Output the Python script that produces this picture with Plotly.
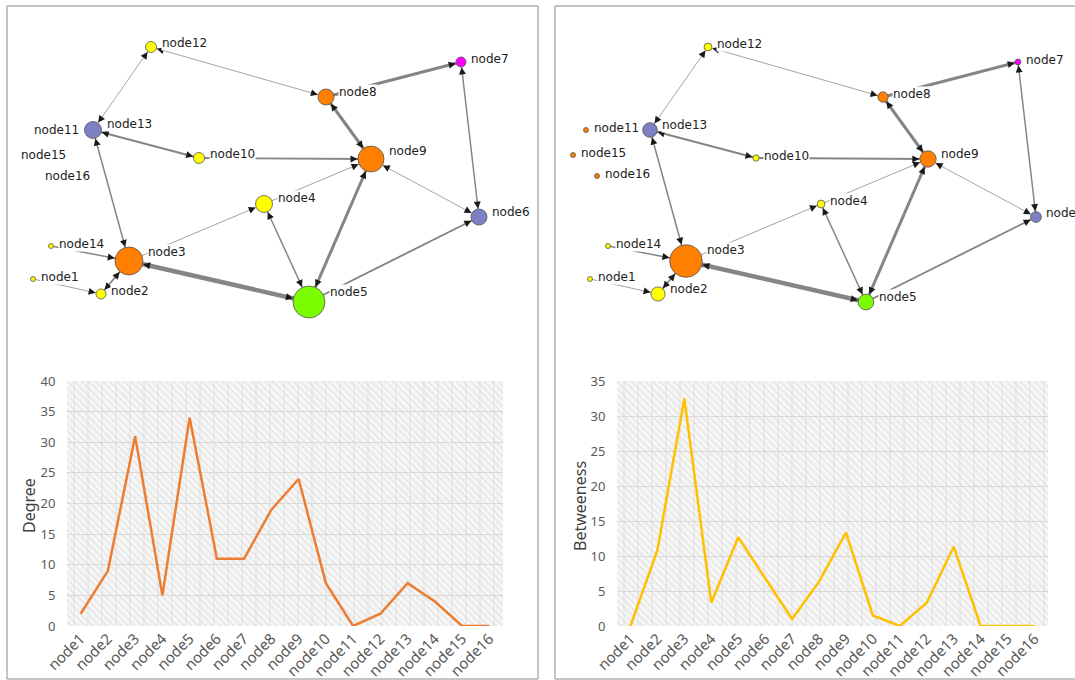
import math
import plotly.graph_objects as go

# ---- data -------------------------------------------------------------
nodes = [f"node{i}" for i in range(1, 17)]
degree = [2, 9, 31, 5, 34, 11, 11, 19, 24, 7, 0, 2, 7, 4, 0, 0]
betweenness = [0, 10.83, 32.5, 3.33, 12.67, 6.83, 1.0, 6.33, 13.33, 1.5, 0, 3.33, 11.33, 0, 0, 0]

# network layout (same layout in both views)
node_x = [33, 101, 129, 264, 309, 479, 461, 326, 371, 199, 29, 151, 93, 51, 16, 40]
node_y = [279, 294, 261, 204, 302, 217, 62, 97, 159, 158, 130, 47, 130, 246, 155, 176]
node_group = ["Y", "Y", "O", "Y", "G", "P", "M", "O", "O", "Y", "O", "Y", "P", "Y", "O", "O"]

# directed ties: (source, target, weight, reciprocal)
edges = [
    (12, 8, 1, True), (13, 12, 1, True), (13, 3, 2, True), (13, 10, 2.5, True),
    (10, 9, 2.5, False), (8, 9, 4, True), (8, 7, 4, False), (7, 6, 2, True),
    (9, 6, 1, True), (4, 9, 1, False), (3, 4, 1, False), (4, 5, 2, True),
    (5, 9, 4, True), (5, 6, 2.5, False), (3, 5, 6, True), (14, 3, 2, False),
    (2, 3, 2.5, True), (1, 2, 1, False),
]

# ---- styles -----------------------------------------------------------
group_colors = {"Y": "#FFFF00", "O": "#FF7F00", "G": "#7CFC00", "P": "#7F7FC4", "M": "#FF00FF"}
left_sizes = [5, 10, 28, 17, 32, 16, 10, 16, 26, 11, 0, 11, 17, 5, 0, 0]
right_sizes = [5 + 0.85 * b for b in betweenness]

W, H = 1075, 680
LINE_FONT = "Noto Sans"
NET_FONT = "DejaVu Sans"

fig = go.Figure()
annotations = []


def px_x(v):
    return v / W


def px_y(v):
    return 1 - v / H


def add_network(xa, ya, sizes):
    # edges as plain lines under the nodes
    for s, t, w, both in edges:
        i, j = s - 1, t - 1
        fig.add_trace(go.Scatter(
            x=[node_x[i], node_x[j]], y=[node_y[i], node_y[j]], mode="lines",
            line=dict(color="#858585", width=0.75 * w), hoverinfo="skip",
            xaxis=xa, yaxis=ya, showlegend=False))
    # nodes
    fig.add_trace(go.Scatter(
        x=node_x, y=node_y, mode="markers",
        marker=dict(size=sizes, color=[group_colors[g] for g in node_group],
                    line=dict(color="#555555", width=[0.8 if s > 0 else 0 for s in sizes]),
                    opacity=1),
        text=nodes, hoverinfo="text", xaxis=xa, yaxis=ya, showlegend=False))
    # arrowheads (black) sitting on the node rim
    for s, t, w, both in edges:
        ends = [(s - 1, t - 1)] + ([(t - 1, s - 1)] if both else [])
        for a, b in ends:
            dx, dy = node_x[a] - node_x[b], node_y[a] - node_y[b]
            d = math.hypot(dx, dy)
            r = sizes[b] / 2 + 0.5
            back = r + 8
            annotations.append(dict(
                x=node_x[b], y=node_y[b], ax=node_x[b] + dx / d * back, ay=node_y[b] + dy / d * back,
                xref=xa, yref=ya, axref=xa, ayref=ya, showarrow=True, text="",
                arrowhead=2, arrowsize=1.4, arrowwidth=1, arrowcolor="#1a1a1a", standoff=r))
    # labels with white backing (they mask the edges passing under them)
    for k, name in enumerate(nodes):
        r = sizes[k] / 2
        annotations.append(dict(
            x=node_x[k] + r + 4, y=node_y[k] - 0.65 * r, xref=xa, yref=ya,
            text=name, showarrow=False, xanchor="left", yanchor="middle",
            bgcolor="white", borderpad=0,
            font=dict(family=NET_FONT, size=12, color="#222222")))


add_network("x3", "y3", left_sizes)
add_network("x4", "y4", right_sizes)


def add_line_chart(xa, ya, values, ymax, color):
    # hatched plot background
    fig.add_trace(go.Bar(
        x=nodes, y=[ymax] * len(nodes), width=1, xaxis=xa, yaxis=ya,
        marker=dict(color="rgba(215,215,215,0.22)", line=dict(width=0),
                    pattern=dict(shape="\\", fgcolor="#d4d4d4", size=5, solidity=0.3, fillmode="overlay")),
        hoverinfo="skip", showlegend=False))
    fig.add_trace(go.Bar(
        x=nodes, y=[ymax] * len(nodes), width=1, xaxis=xa, yaxis=ya,
        marker=dict(color="rgba(0,0,0,0)", line=dict(width=0),
                    pattern=dict(shape="|", fgcolor="#d4d4d4", size=14, solidity=0.09, fillmode="overlay")),
        hoverinfo="skip", showlegend=False))
    fig.add_trace(go.Scatter(
        x=nodes, y=values, mode="lines", line=dict(color=color, width=2.5),
        xaxis=xa, yaxis=ya, showlegend=False))


add_line_chart("x", "y", degree, 40, "#ED7D31")
add_line_chart("x2", "y2", betweenness, 35, "#FFC000")

cat_axis = dict(type="category", range=[-0.5, 15.5], showgrid=False, zeroline=False,
                showline=False, tickangle=-45, ticks="", automargin=False,
                tickfont=dict(family=LINE_FONT, size=15, color="#595959"))
val_axis = dict(dtick=5, showgrid=True, gridcolor="#dcdcdc", gridwidth=1, zeroline=False,
                showline=False, ticks="outside", ticklen=8, tickcolor="rgba(0,0,0,0)",
                automargin=False,
                tickfont=dict(family=LINE_FONT, size=13, color="#595959"))
net_x = dict(visible=False, showgrid=False, zeroline=False, automargin=False)
net_y = dict(visible=False, showgrid=False, zeroline=False, automargin=False)

line_dom_y = [px_y(626), px_y(381)]
net_dom_y = [px_y(340), px_y(6)]

fig.update_layout(
    width=W, height=H, margin=dict(l=0, r=0, t=0, b=0, pad=0), autosize=False,
    paper_bgcolor="white", plot_bgcolor="white", barmode="overlay", bargap=0,
    xaxis=dict(cat_axis, domain=[px_x(67), px_x(503)], anchor="y"),
    yaxis=dict(val_axis, domain=line_dom_y, range=[0, 40], anchor="x"),
    xaxis2=dict(cat_axis, domain=[px_x(617), px_x(1048)], anchor="y2"),
    yaxis2=dict(val_axis, domain=line_dom_y, range=[0, 35], anchor="x2"),
    xaxis3=dict(net_x, domain=[px_x(7), px_x(538)], range=[7, 538], anchor="y3"),
    yaxis3=dict(net_y, domain=net_dom_y, range=[340, 6], anchor="x3"),
    xaxis4=dict(net_x, domain=[px_x(555), 1], range=[-2, 518], anchor="y4"),
    yaxis4=dict(net_y, domain=net_dom_y, range=[340, 6], anchor="x4"),
    shapes=[
        dict(type="rect", xref="paper", yref="paper", x0=px_x(7), x1=px_x(538),
             y0=px_y(679), y1=px_y(6), line=dict(color="#8a8a8a", width=1)),
        dict(type="rect", xref="paper", yref="paper", x0=px_x(555), x1=1.02,
             y0=px_y(679), y1=px_y(6), line=dict(color="#8a8a8a", width=1)),
    ],
)

annotations += [
    dict(x=px_x(29), y=px_y(506), xref="paper", yref="paper", text="Degree", textangle=-90,
         xanchor="center", yanchor="middle", showarrow=False,
         font=dict(family=LINE_FONT, size=16, color="#404040")),
    dict(x=px_x(580), y=px_y(506), xref="paper", yref="paper", text="Betweeness", textangle=-90,
         xanchor="center", yanchor="middle", showarrow=False,
         font=dict(family=LINE_FONT, size=16, color="#404040")),
]
fig.update_layout(annotations=annotations)

fig.write_html("out.html")
